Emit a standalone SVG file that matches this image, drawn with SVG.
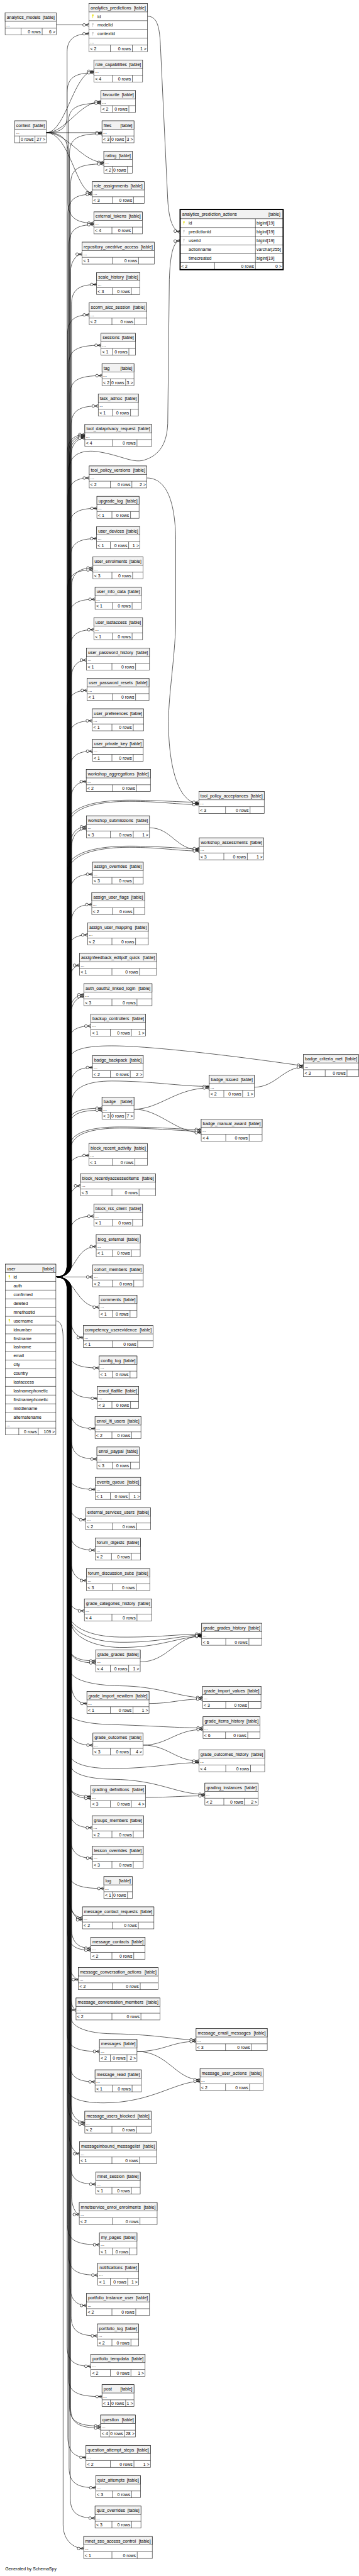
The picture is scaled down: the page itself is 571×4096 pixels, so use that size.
<svg xmlns="http://www.w3.org/2000/svg" width="571" height="4096" viewBox="0 0 571 4096">
<style>
.b{fill:#fff;stroke:#222;stroke-width:1}
.h{fill:#f2f2f2;stroke:#222;stroke-width:1}
.l{fill:none;stroke:#222;stroke-width:1}
text{font-family:"Liberation Sans",Arial,Helvetica,sans-serif;font-size:11px;fill:#000}
.e{text-anchor:end}
#connectors path{fill:none;stroke:#000;stroke-width:1;marker-end:url(#zm)}
</style>
<defs>
<marker id="zm" markerUnits="userSpaceOnUse" orient="auto" markerWidth="30" markerHeight="20" refX="25" refY="10"><path d="M16,10L25,6.2M16,10H25M16,10L25,13.8" fill="none" stroke="#000" stroke-width="1"/><circle cx="12.6" cy="10" r="3.4" fill="#fff" stroke="#000" stroke-width="1"/></marker>
<path id="ky" d="M-1.6,-4.5h3.2v3.5l-1,1v4.5h-1.2v-4.5l-1,-1z"/>
</defs>
<rect width="571" height="4096" fill="#fff"/>
<g transform="scale(0.6352)">
<g id="connectors">
<path d="M141,62.3H222.9"/>
<path d="M369.1,40.7C395,40.7 400,70 402,120L420,500C423,555 435,578 451,580.5"/>
<path d="M116,332C150,332 168,322 168,290V130C168,96 190,84.5 222.9,84.5"/>
<path d="M116,332C165,332 185,178.3 235,178.3"/>
<path d="M116,332C165,332 200,254.4 253,254.4"/>
<path d="M116,332H255.4"/>
<path d="M116,332C170,332 205,406.4 260,406.4"/>
<path d="M116,332C175,332 190,482.5 231,482.5"/>
<path d="M116,332C150,332 170,345 170,380V505C170,545 192,558.5 235,558.5"/>
<path d="M140,3196.6C156,3196.6 168,3190 168,3165V232.3C168,194.3 188,182.3 235,182.3"/>
<path d="M140,3196.6C156,3196.6 171,3190 171,3165V308.4C171,270.4 191,258.4 253,258.4"/>
<path d="M140,3196.6C156,3196.6 174,3190 174,3165V384.9C174,346.9 194,334.9 255.4,334.9"/>
<path d="M140,3196.6C156,3196.6 177,3190 177,3165V460.4C177,422.4 197,410.4 260,410.4"/>
<path d="M140,3196.6C156,3196.6 170,3190 170,3165V536.5C170,498.5 190,486.5 231,486.5"/>
<path d="M140,3196.6C156,3196.6 173,3190 173,3165V612.5C173,574.5 193,562.5 235,562.5"/>
<path d="M140,3196.6C156,3196.6 176,3190 176,3165V686.2C176,648.2 196,636.2 205.5,636.2"/>
<path d="M140,3196.6C156,3196.6 179,3190 179,3165V762.2C179,724.2 199,712.2 242,712.2"/>
<path d="M140,3196.6C156,3196.6 169,3190 169,3165V838.2C169,800.2 189,788.2 223.4,788.2"/>
<path d="M140,3196.6C156,3196.6 172,3190 172,3165V914.3C172,876.3 192,864.3 253,864.3"/>
<path d="M140,3196.6C156,3196.6 175,3190 175,3165V990.3C175,952.3 195,940.3 255.4,940.3"/>
<path d="M140,3196.6C156,3196.6 178,3190 178,3165V1066.3C178,1028.3 198,1016.3 246,1016.3"/>
<path d="M140,3196.6C156,3196.6 168,3190 168,3165V1137.8C168,1099.8 188,1087.8 212.4,1087.8"/>
<path d="M140,3196.6C156,3196.6 171,3190 171,3165V1140.8C171,1102.8 191,1090.8 212.4,1090.8"/>
<path d="M140,3196.6C156,3196.6 174,3190 174,3165V1143.8C174,1105.8 194,1093.8 212.4,1093.8"/>
<path d="M140,3196.6C156,3196.6 177,3190 177,3165V1146.8C177,1108.8 197,1096.8 212.4,1096.8"/>
<path d="M140,3196.6C156,3196.6 170,3190 170,3165V1246.5C170,1208.5 190,1196.5 223.4,1196.5"/>
<path d="M140,3196.6C156,3196.6 173,3190 173,3165V1322.5C173,1284.5 193,1272.5 242.6,1272.5"/>
<path d="M140,3196.6C156,3196.6 176,3190 176,3165V1398.2C176,1360.2 196,1348.2 242,1348.2"/>
<path d="M140,3196.6C156,3196.6 179,3190 179,3165V1471.7C179,1433.7 199,1421.7 232.7,1421.7"/>
<path d="M140,3196.6C156,3196.6 169,3190 169,3165V1476.7C169,1438.7 189,1426.7 232.7,1426.7"/>
<path d="M140,3196.6C156,3196.6 172,3190 172,3165V1550.2C172,1512.2 192,1500.2 238,1500.2"/>
<path d="M140,3196.6C156,3196.6 175,3190 175,3165V1626.3C175,1588.3 195,1576.3 235,1576.3"/>
<path d="M140,3196.6C156,3196.6 178,3190 178,3165V1702.3C178,1664.3 198,1652.3 216.5,1652.3"/>
<path d="M140,3196.6C156,3196.6 168,3190 168,3165V1778.3C168,1740.3 188,1728.3 218.2,1728.3"/>
<path d="M140,3196.6C156,3196.6 171,3190 171,3165V1854.4C171,1816.4 191,1804.4 231,1804.4"/>
<path d="M140,3196.6C156,3196.6 174,3190 174,3165V1930.4C174,1892.4 194,1880.4 231.6,1880.4"/>
<path d="M140,3196.6C156,3196.6 177,3190 177,3165V2006.4C177,1968.4 197,1956.4 216,1956.4"/>
<path d="M140,3196.6C156,3196.6 172,3190 172,3165V1180C172,1140 200,1126 240,1130C300,1138 330,1160 360,1152C400,1140 418,1110 420,1060L424,700C426,640 433,604 451,602.4"/>
<path d="M367.4,1196.5C405,1196.5 438,1230 440,1350V1560C438,1650 420,1750 422,1820C424,1930 450,2011.2 498,2011.2"/>
<path d="M140,3196.6C156,3196.6 170,3190 170,3165V2062C170,2022 230,2003 325,2003C400,2003 450,2008.2 498,2008.2"/>
<path d="M140,3196.6C156,3196.6 173,3190 173,3165V2066C173,2026 232,2006 325,2006C400,2006 450,2014.2 498,2014.2"/>
<path d="M140,3196.6C156,3196.6 176,3190 176,3165V2119.7C176,2081.7 196,2069.7 216.5,2069.7"/>
<path d="M140,3196.6C156,3196.6 179,3190 179,3165V2124.7C179,2086.7 199,2074.7 216.5,2074.7"/>
<path d="M374.3,2072.2C430,2072.2 440,2127.3 499,2127.3"/>
<path d="M140,3196.6C156,3196.6 169,3190 169,3165V2178C169,2138 230,2118 325,2118C400,2118 450,2124.3 499,2124.3"/>
<path d="M140,3196.6C156,3196.6 172,3190 172,3165V2182C172,2142 232,2121 325,2121C400,2121 450,2130.3 499,2130.3"/>
<path d="M140,3196.6C156,3196.6 175,3190 175,3165V2238.3C175,2200.3 195,2188.3 231.6,2188.3"/>
<path d="M140,3196.6C156,3196.6 178,3190 178,3165V2314.3C178,2276.3 198,2264.3 229.8,2264.3"/>
<path d="M140,3196.6C156,3196.6 168,3190 168,3165V2390.3C168,2352.3 188,2340.3 219.4,2340.3"/>
<path d="M140,3196.6C156,3196.6 171,3190 171,3165V2466.4C171,2428.4 191,2416.4 199,2416.4"/>
<path d="M140,3196.6C156,3196.6 174,3190 174,3165V2539.9C174,2501.9 194,2489.9 210,2489.9"/>
<path d="M140,3196.6C156,3196.6 177,3190 177,3165V2544.9C177,2506.9 197,2494.9 210,2494.9"/>
<path d="M140,3196.6C156,3196.6 170,3190 170,3165V2618.4C170,2580.4 190,2568.4 227.5,2568.4"/>
<path d="M140,3196.6C156,3196.6 173,3190 173,3165V2655C173,2625 220,2618 280,2618C380,2618 600,2645 759.7,2668.3"/>
<path d="M636.7,2721.5C690,2721.5 710,2671.3 759.7,2671.3"/>
<path d="M140,3196.6C156,3196.6 176,3190 176,3165V2722.2C176,2684.2 196,2672.2 231.6,2672.2"/>
<path d="M140,3196.6C156,3196.6 179,3190 179,3165V2760C179,2722 220,2706 280,2706C380,2706 450,2719.5 524,2719.5"/>
<path d="M335.5,2776.6C400,2776.6 440,2723.5 524,2723.5"/>
<path d="M140,3196.6C156,3196.6 169,3190 169,3165V2824.1C169,2786.1 189,2774.1 255.4,2774.1"/>
<path d="M140,3196.6C156,3196.6 172,3190 172,3165V2829.1C172,2791.1 192,2779.1 255.4,2779.1"/>
<path d="M140,3196.6C156,3196.6 175,3190 175,3165V2870C175,2834 230,2821 300,2821C400,2821 450,2827.4 503.8,2827.4"/>
<path d="M140,3196.6C156,3196.6 178,3190 178,3165V2874C178,2838 232,2824 300,2824C400,2824 450,2831.4 503.8,2831.4"/>
<path d="M335.5,2776.6C400,2776.6 440,2835.4 503.8,2835.4"/>
<path d="M140,3196.6C156,3196.6 168,3190 168,3165V2942.4C168,2904.4 188,2892.4 222.9,2892.4"/>
<path d="M140,3196.6C156,3196.6 171,3190 171,3165V3018.4C171,2980.4 191,2968.4 201.4,2968.4"/>
<path d="M140,3196.6C156,3196.6 174,3190 174,3165V3094.4C174,3056.4 194,3044.4 235,3044.4"/>
<path d="M140,3196.6C190,3196.6 185,3120.5 240.9,3120.5"/>
<path d="M139.9,3196.6H232"/>
<path d="M140,3196.6C190,3196.6 190,3272.2 248.4,3272.2"/>
<path d="M140,3196.6C156,3196.6 177,3203 177,3228V3298.2C177,3336.2 197,3348.2 208.4,3348.2"/>
<path d="M140,3196.6C156,3196.6 170,3203 170,3228V3374.3C170,3412.3 190,3424.3 248.4,3424.3"/>
<path d="M140,3196.6C156,3196.6 173,3203 173,3228V3450.3C173,3488.3 193,3500.3 243.8,3500.3"/>
<path d="M140,3196.6C156,3196.6 176,3203 176,3228V3526.3C176,3564.3 196,3576.3 238,3576.3"/>
<path d="M140,3196.6C156,3196.6 179,3203 179,3228V3602.3C179,3640.3 199,3652.3 242.6,3652.3"/>
<path d="M140,3196.6C156,3196.6 169,3203 169,3228V3678.4C169,3716.4 189,3728.4 238.5,3728.4"/>
<path d="M140,3196.6C156,3196.6 172,3203 172,3228V3754.4C172,3792.4 192,3804.4 214.7,3804.4"/>
<path d="M140,3196.6C156,3196.6 175,3203 175,3228V3830.4C175,3868.4 195,3880.4 238.5,3880.4"/>
<path d="M140,3196.6C156,3196.6 178,3203 178,3228V3906.5C178,3944.5 198,3956.5 216.5,3956.5"/>
<path d="M140,3196.6C156,3196.6 168,3203 168,3228V3982.5C168,4020.5 188,4032.5 211.3,4032.5"/>
<path d="M140,3196.6C156,3196.6 171,3203 171,3228V4035C171,4070 220,4097 300,4098C400,4099 450,4090.5 505,4090.5"/>
<path d="M140,3196.6C156,3196.6 174,3203 174,3228V4045C174,4085 230,4110 300,4111C400,4112 450,4093.5 505,4093.5"/>
<path d="M140,3196.6C156,3196.6 177,3203 177,3228V4055C177,4100 240,4123 300,4124C400,4125 450,4096.5 505,4096.5"/>
<path d="M351.1,4160.2C420,4160.2 440,4095 505,4095"/>
<path d="M140,3196.6C156,3196.6 170,3203 170,3228V4107.7C170,4145.7 190,4157.7 239.7,4157.7"/>
<path d="M140,3196.6C156,3196.6 173,3203 173,3228V4112.7C173,4150.7 193,4162.7 239.7,4162.7"/>
<path d="M140,3196.6C156,3196.6 176,3203 176,3228V4180C176,4205 230,4219 300,4220C400,4221 450,4249.3 507.2,4249.3"/>
<path d="M373.2,4264.3C430,4264.3 450,4253.3 507.2,4253.3"/>
<path d="M140,3196.6C156,3196.6 179,3203 179,3228V4214.3C179,4252.3 199,4264.3 217.6,4264.3"/>
<path d="M140,3196.6C156,3196.6 169,3203 169,3228V4285C169,4305 220,4316 280,4317C380,4320 450,4325.4 508.4,4325.4"/>
<path d="M358,4368.5C420,4368.5 440,4329.4 508.4,4329.4"/>
<path d="M140,3196.6C156,3196.6 172,3203 172,3228V4318.5C172,4356.5 192,4368.5 232.7,4368.5"/>
<path d="M358,4368.5C420,4368.5 440,4408.2 498,4408.2"/>
<path d="M140,3196.6C156,3196.6 175,3203 175,3228V4390C175,4415 220,4427 280,4427C380,4427 440,4412.2 498,4412.2"/>
<path d="M140,3196.6C156,3196.6 178,3203 178,3228V4420C178,4440 220,4453 280,4454C400,4455 440,4491.5 513,4491.5"/>
<path d="M364.5,4499.3C430,4499.3 450,4495.5 513,4495.5"/>
<path d="M140,3196.6C156,3196.6 168,3203 168,3228V4446.8C168,4484.8 188,4496.8 227.5,4496.8"/>
<path d="M140,3196.6C156,3196.6 171,3203 171,3228V4451.8C171,4489.8 191,4501.8 227.5,4501.8"/>
<path d="M140,3196.6C156,3196.6 174,3203 174,3228V4525.3C174,4563.3 194,4575.3 231,4575.3"/>
<path d="M140,3196.6C156,3196.6 177,3203 177,3228V4601.3C177,4639.3 197,4651.3 231.6,4651.3"/>
<path d="M140,3196.6C156,3196.6 170,3203 170,3228V4677.4C170,4715.4 190,4727.4 260,4727.4"/>
<path d="M140,3196.6C156,3196.6 173,3203 173,3228V4750.9C173,4788.9 193,4800.9 206.6,4800.9"/>
<path d="M140,3196.6C156,3196.6 176,3203 176,3228V4755.9C176,4793.9 196,4805.9 206.6,4805.9"/>
<path d="M140,3196.6C156,3196.6 179,3203 179,3228V4826.9C179,4864.9 199,4876.9 227.5,4876.9"/>
<path d="M140,3196.6C156,3196.6 169,3203 169,3228V4831.9C169,4869.9 189,4881.9 227.5,4881.9"/>
<path d="M140,3196.6C156,3196.6 172,3203 172,3228V4905.5C172,4943.5 192,4955.5 196.2,4955.5"/>
<path d="M140,3196.6C156,3196.6 175,3203 175,3228V4981.5C175,5019.5 186.4,5031.5 190.4,5031.5"/>
<path d="M140,3196.6C156,3196.6 178,3203 178,3228V5050C178,5075 220,5090 280,5091C400,5093 440,5106.2 491,5106.2"/>
<path d="M343,5135.3C410,5135.3 430,5110.2 491,5110.2"/>
<path d="M140,3196.6C156,3196.6 168,3203 168,3228V5085.3C168,5123.3 188,5135.3 249,5135.3"/>
<path d="M343,5135.3C420,5135.3 440,5206.2 500.9,5206.2"/>
<path d="M140,3196.6C156,3196.6 171,3203 171,3228V5230C171,5255 210,5264 260,5264C380,5264 440,5210.2 500.9,5210.2"/>
<path d="M140,3196.6C156,3196.6 174,3203 174,3228V5161.3C174,5199.3 194,5211.3 238,5211.3"/>
<path d="M140,3196.6C156,3196.6 177,3203 177,3228V5262.5C177,5300.5 197,5312.5 212.4,5312.5"/>
<path d="M140,3196.6C156,3196.6 170,3203 170,3228V5267.5C170,5305.5 190,5317.5 212.4,5317.5"/>
<path d="M140,3196.6C156,3196.6 173,3203 173,3228V5341.4C173,5379.4 193,5391.4 199,5391.4"/>
<path d="M140,3196.6C156,3196.6 176,3203 176,3228V5417.5C176,5455.5 196,5467.5 239.7,5467.5"/>
<path d="M140,3196.6C156,3196.6 179,3203 179,3228V5493.5C179,5531.5 194.5,5543.5 198.5,5543.5"/>
<path d="M140,3196.6C156,3196.6 169,3203 169,3228V5569.2C169,5607.2 189,5619.2 249,5619.2"/>
<path d="M140,3196.6C156,3196.6 172,3203 172,3228V5645.2C172,5683.2 192,5695.2 245,5695.2"/>
<path d="M140,3196.6C156,3196.6 175,3203 175,3228V5721.2C175,5759.2 195,5771.2 216.5,5771.2"/>
<path d="M140,3196.6C156,3196.6 178,3203 178,3228V5797.3C178,5835.3 198,5847.3 243.8,5847.3"/>
<path d="M140,3196.6C156,3196.6 168,3203 168,3228V5873.3C168,5911.3 188,5923.3 227.5,5923.3"/>
<path d="M140,3196.6C156,3196.6 171,3203 171,3228V5949.3C171,5987.3 191,5999.3 255.4,5999.3"/>
<path d="M140,3196.6C156,3196.6 174,3203 174,3228V6022.9C174,6060.9 194,6072.9 251.9,6072.9"/>
<path d="M140,3196.6C156,3196.6 177,3203 177,3228V6027.9C177,6065.9 197,6077.9 251.9,6077.9"/>
<path d="M140,3196.6C156,3196.6 170,3203 170,3228V6101.4C170,6139.4 190,6151.4 215.3,6151.4"/>
<path d="M140,3196.6C156,3196.6 173,3203 173,3228V6177.4C173,6215.4 193,6227.4 239.7,6227.4"/>
<path d="M140,3196.6C156,3196.6 176,3203 176,3228V6253.4C176,6291.4 196,6303.4 238,6303.4"/>
<path d="M139.9,3306.6C150,3306.6 158,3318 158,3350V6320C158,6360 185,6379.5 209.5,6379.5"/>
</g>

<g id="analytics_models" transform="translate(12.8,32.5)"><rect class="b" width="128.2" height="55"/><rect class="h" width="128.2" height="21"/><path class="l" d="M0,38H128.2M40,38V55M92.8,38V55"/><text x="4" y="15">analytics_models</text><text class="e" x="124.2" y="15">[table]</text><text x="3" y="33">...</text><text class="e" x="89.3" y="51">0 rows</text><text class="e" x="125.7" y="51">6 &gt;</text></g>

<g id="analytics_predictions" transform="translate(222.9,8.6)"><rect class="b" width="146.2" height="120.9"/><rect class="h" width="146.2" height="21.2"/><path class="l" d="M0,43.1H146.2M0,65H146.2M0,86.9H146.2M0,104.1H146.2M53.4,104.1V120.9M108.5,104.1V120.9"/><text x="4" y="15">analytics_predictions</text><text class="e" x="142.2" y="15">[table]</text><use href="#ky" x="9.6" y="32.2" fill="#e8e000"/><text x="21" y="36.3">id</text><use href="#ky" x="9.6" y="54.1" fill="#c4c4c4"/><text x="21" y="58.2">modelid</text><use href="#ky" x="9.6" y="76" fill="#c4c4c4"/><text x="21" y="80.1">contextid</text><text x="3" y="99.5">...</text><text x="3" y="117">&lt; 2</text><text class="e" x="105" y="117">0 rows</text><text class="e" x="143.7" y="117">1 &gt;</text></g>

<g id="role_capabilities" transform="translate(235,150.3)"><rect class="b" width="122" height="55"/><rect class="h" width="122" height="21"/><path class="l" d="M0,38H122M46.5,38V55M96.4,38V55"/><text x="4" y="15">role_capabilities</text><text class="e" x="118" y="15">[table]</text><text x="3" y="33">...</text><text x="3" y="51">&lt; 4</text><text class="e" x="92.9" y="51">0 rows</text></g>
<g id="favourite" transform="translate(253,226.4)"><rect class="b" width="86" height="55"/><rect class="h" width="86" height="21"/><path class="l" d="M0,38H86M28.5,38V55M69.7,38V55"/><text x="4" y="15">favourite</text><text class="e" x="82" y="15">[table]</text><text x="3" y="33">...</text><text x="3" y="51">&lt; 2</text><text class="e" x="66.2" y="51">0 rows</text></g>
<g id="context" transform="translate(36.6,302.4)"><rect class="b" width="79.4" height="55"/><rect class="h" width="79.4" height="21"/><path class="l" d="M0,38H79.4M12.7,38V55M51,38V55"/><text x="4" y="15">context</text><text class="e" x="75.4" y="15">[table]</text><text x="3" y="33">...</text><text class="e" x="47.5" y="51">0 rows</text><text class="e" x="76.9" y="51">27 &gt;</text></g>
<g id="files" transform="translate(255.4,302.4)"><rect class="b" width="80.1" height="55"/><rect class="h" width="80.1" height="21"/><path class="l" d="M0,38H80.1M20.9,38V55M59.2,38V55"/><text x="4" y="15">files</text><text class="e" x="76.1" y="15">[table]</text><text x="3" y="33">...</text><text x="3" y="51">&lt; 3</text><text class="e" x="55.7" y="51">0 rows</text><text class="e" x="77.6" y="51">3 &gt;</text></g>
<g id="rating" transform="translate(260,378.4)"><rect class="b" width="71.4" height="55"/><rect class="h" width="71.4" height="21"/><path class="l" d="M0,38H71.4M21.5,38V55M59.2,38V55"/><text x="4" y="15">rating</text><text class="e" x="67.4" y="15">[table]</text><text x="3" y="33">...</text><text x="3" y="51">&lt; 2</text><text class="e" x="55.7" y="51">0 rows</text></g>
<g id="role_assignments" transform="translate(231,454.5)"><rect class="b" width="130" height="55"/><rect class="h" width="130" height="21"/><path class="l" d="M0,38H130M50.5,38V55M103.3,38V55"/><text x="4" y="15">role_assignments</text><text class="e" x="126" y="15">[table]</text><text x="3" y="33">...</text><text x="3" y="51">&lt; 3</text><text class="e" x="99.8" y="51">0 rows</text></g>
<g id="external_tokens" transform="translate(235,530.5)"><rect class="b" width="121.3" height="55"/><rect class="h" width="121.3" height="21"/><path class="l" d="M0,38H121.3M45.3,38V55M96.4,38V55"/><text x="4" y="15">external_tokens</text><text class="e" x="117.3" y="15">[table]</text><text x="3" y="33">...</text><text x="3" y="51">&lt; 4</text><text class="e" x="92.9" y="51">0 rows</text></g>

<g id="analytics_prediction_actions" transform="translate(451,524.3)"><rect class="b" width="258" height="150.7"/><rect class="h" width="258" height="23.3"/><path class="l" d="M0,45.2H258M0,67.1H258M0,89H258M0,110.9H258M0,132.8H258M188.6,23.3V150.7M86.4,132.8V150.7"/><rect width="258" height="150.7" fill="none" stroke="#000" stroke-width="3"/><text x="5" y="16">analytics_prediction_actions</text><text class="e" x="251" y="16">[table]</text><use href="#ky" x="9.6" y="34.2" fill="#e8e000"/><text x="21.4" y="38.3">id</text><text x="191.5" y="38.3">bigint[19]</text><use href="#ky" x="9.6" y="56.1" fill="#c4c4c4"/><text x="21.4" y="60.2">predictionid</text><text x="191.5" y="60.2">bigint[19]</text><use href="#ky" x="9.6" y="78" fill="#c4c4c4"/><text x="21.4" y="82.1">userid</text><text x="191.5" y="82.1">bigint[19]</text><text x="21.4" y="104">actionname</text><text x="191.5" y="104">varchar[255]</text><text x="21.4" y="125.9">timecreated</text><text x="191.5" y="125.9">bigint[19]</text><text x="3" y="146.5">&lt; 2</text><text class="e" x="185" y="146.5">0 rows</text><text class="e" x="254" y="146.5">0 &gt;</text></g>

<g id="repository_onedrive_access" transform="translate(205.5,606.2)"><rect class="b" width="181" height="55"/><rect class="h" width="181" height="21"/><path class="l" d="M0,38H181M76,38V55M141.5,38V55"/><text x="4" y="15">repository_onedrive_access</text><text class="e" x="177" y="15">[table]</text><text x="3" y="33">...</text><text x="3" y="51">&lt; 1</text><text class="e" x="138" y="51">0 rows</text></g>
<g id="scale_history" transform="translate(242,682.2)"><rect class="b" width="108" height="55"/><rect class="h" width="108" height="21"/><path class="l" d="M0,38H108M39.5,38V55M87,38V55"/><text x="4" y="15">scale_history</text><text class="e" x="104" y="15">[table]</text><text x="3" y="33">...</text><text x="3" y="51">&lt; 3</text><text class="e" x="83.5" y="51">0 rows</text></g>
<g id="scorm_aicc_session" transform="translate(223.4,758.2)"><rect class="b" width="144" height="55"/><rect class="h" width="144" height="21"/><path class="l" d="M0,38H144M56.9,38V55M113.8,38V55"/><text x="4" y="15">scorm_aicc_session</text><text class="e" x="140" y="15">[table]</text><text x="3" y="33">...</text><text x="3" y="51">&lt; 2</text><text class="e" x="110.3" y="51">0 rows</text></g>
<g id="sessions" transform="translate(253,834.3)"><rect class="b" width="86" height="55"/><rect class="h" width="86" height="21"/><path class="l" d="M0,38H86M28.5,38V55M69.7,38V55"/><text x="4" y="15">sessions</text><text class="e" x="82" y="15">[table]</text><text x="3" y="33">...</text><text x="3" y="51">&lt; 1</text><text class="e" x="66.2" y="51">0 rows</text></g>
<g id="tag" transform="translate(255.4,910.3)"><rect class="b" width="80.1" height="55"/><rect class="h" width="80.1" height="21"/><path class="l" d="M0,38H80.1M20.9,38V55M59.2,38V55"/><text x="4" y="15">tag</text><text class="e" x="76.1" y="15">[table]</text><text x="3" y="33">...</text><text x="3" y="51">&lt; 2</text><text class="e" x="55.7" y="51">0 rows</text><text class="e" x="77.6" y="51">3 &gt;</text></g>
<g id="task_adhoc" transform="translate(246,986.3)"><rect class="b" width="100.5" height="55"/><rect class="h" width="100.5" height="21"/><path class="l" d="M0,38H100.5M35.5,38V55M80.8,38V55"/><text x="4" y="15">task_adhoc</text><text class="e" x="96.5" y="15">[table]</text><text x="3" y="33">...</text><text x="3" y="51">&lt; 1</text><text class="e" x="77.3" y="51">0 rows</text></g>
<g id="tool_dataprivacy_request" transform="translate(212.4,1062.3)"><rect class="b" width="167.2" height="55"/><rect class="h" width="167.2" height="21"/><path class="l" d="M0,38H167.2M69.1,38V55M130.6,38V55"/><text x="4" y="15">tool_dataprivacy_request</text><text class="e" x="163.2" y="15">[table]</text><text x="3" y="33">...</text><text x="3" y="51">&lt; 4</text><text class="e" x="127.1" y="51">0 rows</text></g>
<g id="tool_policy_versions" transform="translate(223.4,1166.5)"><rect class="b" width="144" height="55"/><rect class="h" width="144" height="21"/><path class="l" d="M0,38H144M52.9,38V55M106.8,38V55"/><text x="4" y="15">tool_policy_versions</text><text class="e" x="140" y="15">[table]</text><text x="3" y="33">...</text><text x="3" y="51">&lt; 2</text><text class="e" x="103.3" y="51">0 rows</text><text class="e" x="141.5" y="51">2 &gt;</text></g>
<g id="upgrade_log" transform="translate(242.6,1242.5)"><rect class="b" width="105.6" height="55"/><rect class="h" width="105.6" height="21"/><path class="l" d="M0,38H105.6M37.7,38V55M84.2,38V55"/><text x="4" y="15">upgrade_log</text><text class="e" x="101.6" y="15">[table]</text><text x="3" y="33">...</text><text x="3" y="51">&lt; 1</text><text class="e" x="80.7" y="51">0 rows</text></g>
<g id="user_devices" transform="translate(242,1318.2)"><rect class="b" width="108" height="55"/><rect class="h" width="108" height="21"/><path class="l" d="M0,38H108M34.3,38V55M80.1,38V55"/><text x="4" y="15">user_devices</text><text class="e" x="104" y="15">[table]</text><text x="3" y="33">...</text><text x="3" y="51">&lt; 1</text><text class="e" x="76.6" y="51">0 rows</text><text class="e" x="105.5" y="51">1 &gt;</text></g>
<g id="user_enrolments" transform="translate(232.7,1394.2)"><rect class="b" width="125.3" height="55"/><rect class="h" width="125.3" height="21"/><path class="l" d="M0,38H125.3M47.6,38V55M99.3,38V55"/><text x="4" y="15">user_enrolments</text><text class="e" x="121.3" y="15">[table]</text><text x="3" y="33">...</text><text x="3" y="51">&lt; 3</text><text class="e" x="95.8" y="51">0 rows</text></g>
<g id="user_info_data" transform="translate(238,1470.2)"><rect class="b" width="116" height="55"/><rect class="h" width="116" height="21"/><path class="l" d="M0,38H116M43.5,38V55M92.8,38V55"/><text x="4" y="15">user_info_data</text><text class="e" x="112" y="15">[table]</text><text x="3" y="33">...</text><text x="3" y="51">&lt; 1</text><text class="e" x="89.3" y="51">0 rows</text></g>
<g id="user_lastaccess" transform="translate(235,1546.3)"><rect class="b" width="122" height="55"/><rect class="h" width="122" height="21"/><path class="l" d="M0,38H122M46.5,38V55M95.8,38V55"/><text x="4" y="15">user_lastaccess</text><text class="e" x="118" y="15">[table]</text><text x="3" y="33">...</text><text x="3" y="51">&lt; 1</text><text class="e" x="92.3" y="51">0 rows</text></g>
<g id="user_password_history" transform="translate(216.5,1622.3)"><rect class="b" width="157.8" height="55"/><rect class="h" width="157.8" height="21"/><path class="l" d="M0,38H157.8M63.8,38V55M123,38V55"/><text x="4" y="15">user_password_history</text><text class="e" x="153.8" y="15">[table]</text><text x="3" y="33">...</text><text x="3" y="51">&lt; 1</text><text class="e" x="119.5" y="51">0 rows</text></g>
<g id="user_password_resets" transform="translate(218.2,1698.3)"><rect class="b" width="155" height="55"/><rect class="h" width="155" height="21"/><path class="l" d="M0,38H155M63.3,38V55M121.3,38V55"/><text x="4" y="15">user_password_resets</text><text class="e" x="151" y="15">[table]</text><text x="3" y="33">...</text><text x="3" y="51">&lt; 1</text><text class="e" x="117.8" y="51">0 rows</text></g>
<g id="user_preferences" transform="translate(231,1774.4)"><rect class="b" width="128.8" height="55"/><rect class="h" width="128.8" height="21"/><path class="l" d="M0,38H128.8M49.3,38V55M102.7,38V55"/><text x="4" y="15">user_preferences</text><text class="e" x="124.8" y="15">[table]</text><text x="3" y="33">...</text><text x="3" y="51">&lt; 1</text><text class="e" x="99.2" y="51">0 rows</text></g>
<g id="user_private_key" transform="translate(231.6,1850.4)"><rect class="b" width="127.1" height="55"/><rect class="h" width="127.1" height="21"/><path class="l" d="M0,38H127.1M48.7,38V55M102.1,38V55"/><text x="4" y="15">user_private_key</text><text class="e" x="123.1" y="15">[table]</text><text x="3" y="33">...</text><text x="3" y="51">&lt; 1</text><text class="e" x="98.6" y="51">0 rows</text></g>
<g id="workshop_aggregations" transform="translate(216,1926.4)"><rect class="b" width="160.7" height="55"/><rect class="h" width="160.7" height="21"/><path class="l" d="M0,38H160.7M65.5,38V55M125.8,38V55"/><text x="4" y="15">workshop_aggregations</text><text class="e" x="156.7" y="15">[table]</text><text x="3" y="33">...</text><text x="3" y="51">&lt; 2</text><text class="e" x="122.3" y="51">0 rows</text></g>
<g id="tool_policy_acceptances" transform="translate(498,1981.2)"><rect class="b" width="163.6" height="55"/><rect class="h" width="163.6" height="21"/><path class="l" d="M0,38H163.6M66.7,38V55M128.2,38V55"/><text x="4" y="15">tool_policy_acceptances</text><text class="e" x="159.6" y="15">[table]</text><text x="3" y="33">...</text><text x="3" y="51">&lt; 3</text><text class="e" x="124.7" y="51">0 rows</text></g>
<g id="workshop_submissions" transform="translate(216.5,2042.2)"><rect class="b" width="157.8" height="55"/><rect class="h" width="157.8" height="21"/><path class="l" d="M0,38H157.8M59.8,38V55M117.2,38V55"/><text x="4" y="15">workshop_submissions</text><text class="e" x="153.8" y="15">[table]</text><text x="3" y="33">...</text><text x="3" y="51">&lt; 3</text><text class="e" x="113.7" y="51">0 rows</text><text class="e" x="155.3" y="51">1 &gt;</text></g>
<g id="workshop_assessments" transform="translate(499,2097.3)"><rect class="b" width="161.5" height="55"/><rect class="h" width="161.5" height="21"/><path class="l" d="M0,38H161.5M61.5,38V55M120.3,38V55"/><text x="4" y="15">workshop_assessments</text><text class="e" x="157.5" y="15">[table]</text><text x="3" y="33">...</text><text x="3" y="51">&lt; 3</text><text class="e" x="116.8" y="51">0 rows</text><text class="e" x="159" y="51">1 &gt;</text></g>
<g id="assign_overrides" transform="translate(231.6,2158.3)"><rect class="b" width="127.1" height="55"/><rect class="h" width="127.1" height="21"/><path class="l" d="M0,38H127.1M48.7,38V55M102.1,38V55"/><text x="4" y="15">assign_overrides</text><text class="e" x="123.1" y="15">[table]</text><text x="3" y="33">...</text><text x="3" y="51">&lt; 3</text><text class="e" x="98.6" y="51">0 rows</text></g>
<g id="assign_user_flags" transform="translate(229.8,2234.3)"><rect class="b" width="132.4" height="55"/><rect class="h" width="132.4" height="21"/><path class="l" d="M0,38H132.4M51.7,38V55M105.1,38V55"/><text x="4" y="15">assign_user_flags</text><text class="e" x="128.4" y="15">[table]</text><text x="3" y="33">...</text><text x="3" y="51">&lt; 2</text><text class="e" x="101.6" y="51">0 rows</text></g>
<g id="assign_user_mapping" transform="translate(219.4,2310.3)"><rect class="b" width="152" height="55"/><rect class="h" width="152" height="21"/><path class="l" d="M0,38H152M60.9,38V55M120.1,38V55"/><text x="4" y="15">assign_user_mapping</text><text class="e" x="148" y="15">[table]</text><text x="3" y="33">...</text><text x="3" y="51">&lt; 2</text><text class="e" x="116.6" y="51">0 rows</text></g>
<g id="assignfeedback_editpdf_quick" transform="translate(199,2386.4)"><rect class="b" width="192.8" height="55"/><rect class="h" width="192.8" height="21"/><path class="l" d="M0,38H192.8M81.3,38V55M150.4,38V55"/><text x="4" y="15">assignfeedback_editpdf_quick</text><text class="e" x="188.8" y="15">[table]</text><text x="3" y="33">...</text><text x="3" y="51">&lt; 1</text><text class="e" x="146.9" y="51">0 rows</text></g>
<g id="auth_oauth2_linked_login" transform="translate(210,2462.4)"><rect class="b" width="170.7" height="55"/><rect class="h" width="170.7" height="21"/><path class="l" d="M0,38H170.7M70.3,38V55M133,38V55"/><text x="4" y="15">auth_oauth2_linked_login</text><text class="e" x="166.7" y="15">[table]</text><text x="3" y="33">...</text><text x="3" y="51">&lt; 3</text><text class="e" x="129.5" y="51">0 rows</text></g>
<g id="backup_controllers" transform="translate(227.5,2538.4)"><rect class="b" width="137" height="55"/><rect class="h" width="137" height="21"/><path class="l" d="M0,38H137M48.8,38V55M101.5,38V55"/><text x="4" y="15">backup_controllers</text><text class="e" x="133" y="15">[table]</text><text x="3" y="33">...</text><text x="3" y="51">&lt; 1</text><text class="e" x="98" y="51">0 rows</text><text class="e" x="134.5" y="51">1 &gt;</text></g>
<g id="badge_backpack" transform="translate(231.6,2642.2)"><rect class="b" width="127.1" height="55"/><rect class="h" width="127.1" height="21"/><path class="l" d="M0,38H127.1M44.7,38V55M94.6,38V55"/><text x="4" y="15">badge_backpack</text><text class="e" x="123.1" y="15">[table]</text><text x="3" y="33">...</text><text x="3" y="51">&lt; 2</text><text class="e" x="91.1" y="51">0 rows</text><text class="e" x="124.6" y="51">2 &gt;</text></g>
<g id="badge_criteria_met" transform="translate(759.7,2639.8)"><rect class="b" width="138.7" height="55"/><rect class="h" width="138.7" height="21"/><path class="l" d="M0,38H138.7M54.6,38V55M109.2,38V55"/><text x="4" y="15">badge_criteria_met</text><text class="e" x="134.7" y="15">[table]</text><text x="3" y="33">...</text><text x="3" y="51">&lt; 3</text><text class="e" x="105.7" y="51">0 rows</text></g>
<g id="badge_issued" transform="translate(524,2691.5)"><rect class="b" width="112.7" height="55"/><rect class="h" width="112.7" height="21"/><path class="l" d="M0,38H112.7M36.5,38V55M83.5,38V55"/><text x="4" y="15">badge_issued</text><text class="e" x="108.7" y="15">[table]</text><text x="3" y="33">...</text><text x="3" y="51">&lt; 2</text><text class="e" x="80" y="51">0 rows</text><text class="e" x="110.2" y="51">1 &gt;</text></g>
<g id="badge" transform="translate(255.4,2746.6)"><rect class="b" width="80.1" height="55"/><rect class="h" width="80.1" height="21"/><path class="l" d="M0,38H80.1M20.9,38V55M59.2,38V55"/><text x="4" y="15">badge</text><text class="e" x="76.1" y="15">[table]</text><text x="3" y="33">...</text><text x="3" y="51">&lt; 3</text><text class="e" x="55.7" y="51">0 rows</text><text class="e" x="77.6" y="51">7 &gt;</text></g>
<g id="badge_manual_award" transform="translate(503.8,2801.4)"><rect class="b" width="152.6" height="55"/><rect class="h" width="152.6" height="21"/><path class="l" d="M0,38H152.6M61.5,38V55M120.1,38V55"/><text x="4" y="15">badge_manual_award</text><text class="e" x="148.6" y="15">[table]</text><text x="3" y="33">...</text><text x="3" y="51">&lt; 4</text><text class="e" x="116.6" y="51">0 rows</text></g>
<g id="block_recent_activity" transform="translate(222.9,2862.4)"><rect class="b" width="146.2" height="55"/><rect class="h" width="146.2" height="21"/><path class="l" d="M0,38H146.2M58.6,38V55M114.9,38V55"/><text x="4" y="15">block_recent_activity</text><text class="e" x="142.2" y="15">[table]</text><text x="3" y="33">...</text><text x="3" y="51">&lt; 1</text><text class="e" x="111.4" y="51">0 rows</text></g>
<g id="block_recentlyaccesseditems" transform="translate(201.4,2938.4)"><rect class="b" width="188" height="55"/><rect class="h" width="188" height="21"/><path class="l" d="M0,38H188M78.9,38V55M146.8,38V55"/><text x="4" y="15">block_recentlyaccesseditems</text><text class="e" x="184" y="15">[table]</text><text x="3" y="33">...</text><text x="3" y="51">&lt; 3</text><text class="e" x="143.3" y="51">0 rows</text></g>
<g id="block_rss_client" transform="translate(235,3014.4)"><rect class="b" width="122" height="55"/><rect class="h" width="122" height="21"/><path class="l" d="M0,38H122M46.5,38V55M97,38V55"/><text x="4" y="15">block_rss_client</text><text class="e" x="118" y="15">[table]</text><text x="3" y="33">...</text><text x="3" y="51">&lt; 1</text><text class="e" x="93.5" y="51">0 rows</text></g>
<g id="blog_external" transform="translate(240.9,3090.5)"><rect class="b" width="110.2" height="55"/><rect class="h" width="110.2" height="21"/><path class="l" d="M0,38H110.2M40.6,38V55M88.1,38V55"/><text x="4" y="15">blog_external</text><text class="e" x="106.2" y="15">[table]</text><text x="3" y="33">...</text><text x="3" y="51">&lt; 1</text><text class="e" x="84.6" y="51">0 rows</text></g>

<g id="user" transform="translate(13.3,3164.5)"><rect class="b" width="126.6" height="427.5"/><rect class="h" width="126.6" height="21.2"/><path class="l" d="M0,43.1H126.6M0,65H126.6M0,86.9H126.6M0,108.8H126.6M0,130.7H126.6M0,152.6H126.6M0,174.5H126.6M0,196.4H126.6M0,218.3H126.6M0,240.2H126.6M0,262.1H126.6M0,284H126.6M0,305.9H126.6M0,327.8H126.6M0,349.7H126.6M0,371.6H126.6M0,393.5H126.6M0,410.5H126.6M33.7,410.5V427.5M82.5,410.5V427.5"/><text x="4" y="15">user</text><text class="e" x="122.6" y="15">[table]</text><use href="#ky" x="9.9" y="32.2" fill="#e8e000"/><text x="20.4" y="36.3">id</text><text x="20.4" y="58.2">auth</text><text x="20.4" y="80.1">confirmed</text><text x="20.4" y="102">deleted</text><text x="20.4" y="123.9">mnethostid</text><use href="#ky" x="9.9" y="141.7" fill="#e8e000"/><text x="20.4" y="145.8">username</text><text x="20.4" y="167.7">idnumber</text><text x="20.4" y="189.6">firstname</text><text x="20.4" y="211.5">lastname</text><text x="20.4" y="233.4">email</text><text x="20.4" y="255.3">city</text><text x="20.4" y="277.2">country</text><text x="20.4" y="299.1">lastaccess</text><text x="20.4" y="321">lastnamephonetic</text><text x="20.4" y="342.9">firstnamephonetic</text><text x="20.4" y="364.8">middlename</text><text x="20.4" y="386.7">alternatename</text><text x="3" y="405.5">...</text><text class="e" x="79" y="423.5">0 rows</text><text class="e" x="124" y="423.5">109 &gt;</text></g>

<g id="cohort_members" transform="translate(232,3166.2)"><rect class="b" width="126.7" height="55"/><rect class="h" width="126.7" height="21"/><path class="l" d="M0,38H126.7M49.5,38V55M102.9,38V55"/><text x="4" y="15">cohort_members</text><text class="e" x="122.7" y="15">[table]</text><text x="3" y="33">...</text><text x="3" y="51">&lt; 2</text><text class="e" x="99.4" y="51">0 rows</text></g>
<g id="comments" transform="translate(248.4,3242.2)"><rect class="b" width="94.6" height="55"/><rect class="h" width="94.6" height="21"/><path class="l" d="M0,38H94.6M33.1,38V55M77.2,38V55"/><text x="4" y="15">comments</text><text class="e" x="90.6" y="15">[table]</text><text x="3" y="33">...</text><text x="3" y="51">&lt; 1</text><text class="e" x="73.7" y="51">0 rows</text></g>
<g id="competency_userevidence" transform="translate(208.4,3318.2)"><rect class="b" width="175.2" height="55"/><rect class="h" width="175.2" height="21"/><path class="l" d="M0,38H175.2M73.1,38V55M136.3,38V55"/><text x="4" y="15">competency_userevidence</text><text class="e" x="171.2" y="15">[table]</text><text x="3" y="33">...</text><text x="3" y="51">&lt; 1</text><text class="e" x="132.8" y="51">0 rows</text></g>
<g id="config_log" transform="translate(248.4,3394.3)"><rect class="b" width="94.6" height="55"/><rect class="h" width="94.6" height="21"/><path class="l" d="M0,38H94.6M33.1,38V55M77.2,38V55"/><text x="4" y="15">config_log</text><text class="e" x="90.6" y="15">[table]</text><text x="3" y="33">...</text><text x="3" y="51">&lt; 1</text><text class="e" x="73.7" y="51">0 rows</text></g>
<g id="enrol_flatfile" transform="translate(243.8,3470.3)"><rect class="b" width="103.2" height="55"/><rect class="h" width="103.2" height="21"/><path class="l" d="M0,38H103.2M36.5,38V55M83,38V55"/><text x="4" y="15">enrol_flatfile</text><text class="e" x="99.2" y="15">[table]</text><text x="3" y="33">...</text><text x="3" y="51">&lt; 3</text><text class="e" x="79.5" y="51">0 rows</text></g>
<g id="enrol_lti_users" transform="translate(238,3546.3)"><rect class="b" width="114.9" height="55"/><rect class="h" width="114.9" height="21"/><path class="l" d="M0,38H114.9M42.3,38V55M91.6,38V55"/><text x="4" y="15">enrol_lti_users</text><text class="e" x="110.9" y="15">[table]</text><text x="3" y="33">...</text><text x="3" y="51">&lt; 2</text><text class="e" x="88.1" y="51">0 rows</text></g>
<g id="enrol_paypal" transform="translate(242.6,3622.3)"><rect class="b" width="106.2" height="55"/><rect class="h" width="106.2" height="21"/><path class="l" d="M0,38H106.2M38.9,38V55M84.2,38V55"/><text x="4" y="15">enrol_paypal</text><text class="e" x="102.2" y="15">[table]</text><text x="3" y="33">...</text><text x="3" y="51">&lt; 3</text><text class="e" x="80.7" y="51">0 rows</text></g>
<g id="events_queue" transform="translate(238.5,3698.4)"><rect class="b" width="113.8" height="55"/><rect class="h" width="113.8" height="21"/><path class="l" d="M0,38H113.8M37.8,38V55M84.8,38V55"/><text x="4" y="15">events_queue</text><text class="e" x="109.8" y="15">[table]</text><text x="3" y="33">...</text><text x="3" y="51">&lt; 1</text><text class="e" x="81.3" y="51">0 rows</text><text class="e" x="111.3" y="51">1 &gt;</text></g>
<g id="external_services_users" transform="translate(214.7,3774.4)"><rect class="b" width="162.5" height="55"/><rect class="h" width="162.5" height="21"/><path class="l" d="M0,38H162.5M66.8,38V55M127.7,38V55"/><text x="4" y="15">external_services_users</text><text class="e" x="158.5" y="15">[table]</text><text x="3" y="33">...</text><text x="3" y="51">&lt; 2</text><text class="e" x="124.2" y="51">0 rows</text></g>
<g id="forum_digests" transform="translate(238.5,3850.4)"><rect class="b" width="113.2" height="55"/><rect class="h" width="113.2" height="21"/><path class="l" d="M0,38H113.2M40.7,38V55M90.5,38V55"/><text x="4" y="15">forum_digests</text><text class="e" x="109.2" y="15">[table]</text><text x="3" y="33">...</text><text x="3" y="51">&lt; 2</text><text class="e" x="87" y="51">0 rows</text></g>
<g id="forum_discussion_subs" transform="translate(216.5,3926.5)"><rect class="b" width="158.5" height="55"/><rect class="h" width="158.5" height="21"/><path class="l" d="M0,38H158.5M65,38V55M124.8,38V55"/><text x="4" y="15">forum_discussion_subs</text><text class="e" x="154.5" y="15">[table]</text><text x="3" y="33">...</text><text x="3" y="51">&lt; 3</text><text class="e" x="121.3" y="51">0 rows</text></g>
<g id="grade_categories_history" transform="translate(211.3,4002.5)"><rect class="b" width="168.3" height="55"/><rect class="h" width="168.3" height="21"/><path class="l" d="M0,38H168.3M69,38V55M131.7,38V55"/><text x="4" y="15">grade_categories_history</text><text class="e" x="164.3" y="15">[table]</text><text x="3" y="33">...</text><text x="3" y="51">&lt; 4</text><text class="e" x="128.2" y="51">0 rows</text></g>
<g id="grade_grades_history" transform="translate(505,4063.5)"><rect class="b" width="150.8" height="55"/><rect class="h" width="150.8" height="21"/><path class="l" d="M0,38H150.8M60.3,38V55M118.3,38V55"/><text x="4" y="15">grade_grades_history</text><text class="e" x="146.8" y="15">[table]</text><text x="3" y="33">...</text><text x="3" y="51">&lt; 6</text><text class="e" x="114.8" y="51">0 rows</text></g>
<g id="grade_grades" transform="translate(239.7,4130.2)"><rect class="b" width="111.4" height="55"/><rect class="h" width="111.4" height="21"/><path class="l" d="M0,38H111.4M36.6,38V55M82.4,38V55"/><text x="4" y="15">grade_grades</text><text class="e" x="107.4" y="15">[table]</text><text x="3" y="33">...</text><text x="3" y="51">&lt; 4</text><text class="e" x="78.9" y="51">0 rows</text><text class="e" x="108.9" y="51">1 &gt;</text></g>
<g id="grade_import_values" transform="translate(507.2,4221.3)"><rect class="b" width="146.3" height="55"/><rect class="h" width="146.3" height="21"/><path class="l" d="M0,38H146.3M58.1,38V55M115,38V55"/><text x="4" y="15">grade_import_values</text><text class="e" x="142.3" y="15">[table]</text><text x="3" y="33">...</text><text x="3" y="51">&lt; 3</text><text class="e" x="111.5" y="51">0 rows</text></g>
<g id="grade_import_newitem" transform="translate(217.6,4234.3)"><rect class="b" width="155.6" height="55"/><rect class="h" width="155.6" height="21"/><path class="l" d="M0,38H155.6M58.7,38V55M115.5,38V55"/><text x="4" y="15">grade_import_newitem</text><text class="e" x="151.6" y="15">[table]</text><text x="3" y="33">...</text><text x="3" y="51">&lt; 1</text><text class="e" x="112" y="51">0 rows</text><text class="e" x="153.1" y="51">1 &gt;</text></g>
<g id="grade_items_history" transform="translate(508.4,4297.4)"><rect class="b" width="142.8" height="55"/><rect class="h" width="142.8" height="21"/><path class="l" d="M0,38H142.8M56.3,38V55M112,38V55"/><text x="4" y="15">grade_items_history</text><text class="e" x="138.8" y="15">[table]</text><text x="3" y="33">...</text><text x="3" y="51">&lt; 6</text><text class="e" x="108.5" y="51">0 rows</text></g>
<g id="grade_outcomes" transform="translate(232.7,4338.5)"><rect class="b" width="125.3" height="55"/><rect class="h" width="125.3" height="21"/><path class="l" d="M0,38H125.3M43.6,38V55M93.5,38V55"/><text x="4" y="15">grade_outcomes</text><text class="e" x="121.3" y="15">[table]</text><text x="3" y="33">...</text><text x="3" y="51">&lt; 3</text><text class="e" x="90" y="51">0 rows</text><text class="e" x="122.8" y="51">4 &gt;</text></g>
<g id="grade_outcomes_history" transform="translate(498,4380.2)"><rect class="b" width="164.8" height="55"/><rect class="h" width="164.8" height="21"/><path class="l" d="M0,38H164.8M67.3,38V55M129.4,38V55"/><text x="4" y="15">grade_outcomes_history</text><text class="e" x="160.8" y="15">[table]</text><text x="3" y="33">...</text><text x="3" y="51">&lt; 4</text><text class="e" x="125.9" y="51">0 rows</text></g>
<g id="grading_instances" transform="translate(513,4463.5)"><rect class="b" width="133.5" height="55"/><rect class="h" width="133.5" height="21"/><path class="l" d="M0,38H133.5M47.5,38V55M99.2,38V55"/><text x="4" y="15">grading_instances</text><text class="e" x="129.5" y="15">[table]</text><text x="3" y="33">...</text><text x="3" y="51">&lt; 2</text><text class="e" x="95.7" y="51">0 rows</text><text class="e" x="131" y="51">2 &gt;</text></g>
<g id="grading_definitions" transform="translate(227.5,4469.3)"><rect class="b" width="137" height="55"/><rect class="h" width="137" height="21"/><path class="l" d="M0,38H137M48.8,38V55M101.5,38V55"/><text x="4" y="15">grading_definitions</text><text class="e" x="133" y="15">[table]</text><text x="3" y="33">...</text><text x="3" y="51">&lt; 3</text><text class="e" x="98" y="51">0 rows</text><text class="e" x="134.5" y="51">4 &gt;</text></g>
<g id="groups_members" transform="translate(231,4545.3)"><rect class="b" width="128.8" height="55"/><rect class="h" width="128.8" height="21"/><path class="l" d="M0,38H128.8M49.3,38V55M102.7,38V55"/><text x="4" y="15">groups_members</text><text class="e" x="124.8" y="15">[table]</text><text x="3" y="33">...</text><text x="3" y="51">&lt; 2</text><text class="e" x="99.2" y="51">0 rows</text></g>
<g id="lesson_overrides" transform="translate(231.6,4621.3)"><rect class="b" width="127.1" height="55"/><rect class="h" width="127.1" height="21"/><path class="l" d="M0,38H127.1M48.7,38V55M102.1,38V55"/><text x="4" y="15">lesson_overrides</text><text class="e" x="123.1" y="15">[table]</text><text x="3" y="33">...</text><text x="3" y="51">&lt; 3</text><text class="e" x="98.6" y="51">0 rows</text></g>
<g id="log" transform="translate(260,4697.4)"><rect class="b" width="71.4" height="55"/><rect class="h" width="71.4" height="21"/><path class="l" d="M0,38H71.4M21.5,38V55M59.2,38V55"/><text x="4" y="15">log</text><text class="e" x="67.4" y="15">[table]</text><text x="3" y="33">...</text><text x="3" y="51">&lt; 1</text><text class="e" x="55.7" y="51">0 rows</text></g>
<g id="message_contact_requests" transform="translate(206.6,4773.4)"><rect class="b" width="178.8" height="55"/><rect class="h" width="178.8" height="21"/><path class="l" d="M0,38H178.8M74.9,38V55M139.8,38V55"/><text x="4" y="15">message_contact_requests</text><text class="e" x="174.8" y="15">[table]</text><text x="3" y="33">...</text><text x="3" y="51">&lt; 2</text><text class="e" x="136.3" y="51">0 rows</text></g>
<g id="message_contacts" transform="translate(227.5,4849.4)"><rect class="b" width="135.8" height="55"/><rect class="h" width="135.8" height="21"/><path class="l" d="M0,38H135.8M52.8,38V55M107.4,38V55"/><text x="4" y="15">message_contacts</text><text class="e" x="131.8" y="15">[table]</text><text x="3" y="33">...</text><text x="3" y="51">&lt; 2</text><text class="e" x="103.9" y="51">0 rows</text></g>
<g id="message_conversation_actions" transform="translate(196.2,4925.5)"><rect class="b" width="199.6" height="55"/><rect class="h" width="199.6" height="21"/><path class="l" d="M0,38H199.6M85.3,38V55M154.9,38V55"/><text x="4" y="15">message_conversation_actions</text><text class="e" x="195.6" y="15">[table]</text><text x="3" y="33">...</text><text x="3" y="51">&lt; 2</text><text class="e" x="151.4" y="51">0 rows</text></g>
<g id="message_conversation_members" transform="translate(190.4,5001.5)"><rect class="b" width="210.1" height="55"/><rect class="h" width="210.1" height="21"/><path class="l" d="M0,38H210.1M89.9,38V55M162.5,38V55"/><text x="4" y="15">message_conversation_members</text><text class="e" x="206.1" y="15">[table]</text><text x="3" y="33">...</text><text x="3" y="51">&lt; 2</text><text class="e" x="159" y="51">0 rows</text></g>
<g id="message_email_messages" transform="translate(491,5078.2)"><rect class="b" width="178.2" height="55"/><rect class="h" width="178.2" height="21"/><path class="l" d="M0,38H178.2M73.7,38V55M138.7,38V55"/><text x="4" y="15">message_email_messages</text><text class="e" x="174.2" y="15">[table]</text><text x="3" y="33">...</text><text x="3" y="51">&lt; 3</text><text class="e" x="135.2" y="51">0 rows</text></g>
<g id="messages" transform="translate(249,5105.3)"><rect class="b" width="94" height="55"/><rect class="h" width="94" height="21"/><path class="l" d="M0,38H94M27.3,38V55M69,38V55"/><text x="4" y="15">messages</text><text class="e" x="90" y="15">[table]</text><text x="3" y="33">...</text><text x="3" y="51">&lt; 2</text><text class="e" x="65.5" y="51">0 rows</text><text class="e" x="91.5" y="51">2 &gt;</text></g>
<g id="message_user_actions" transform="translate(500.9,5178.2)"><rect class="b" width="157.8" height="55"/><rect class="h" width="157.8" height="21"/><path class="l" d="M0,38H157.8M63.8,38V55M124.1,38V55"/><text x="4" y="15">message_user_actions</text><text class="e" x="153.8" y="15">[table]</text><text x="3" y="33">...</text><text x="3" y="51">&lt; 2</text><text class="e" x="120.6" y="51">0 rows</text></g>
<g id="message_read" transform="translate(238,5181.3)"><rect class="b" width="116" height="55"/><rect class="h" width="116" height="21"/><path class="l" d="M0,38H116M43.5,38V55M92.8,38V55"/><text x="4" y="15">message_read</text><text class="e" x="112" y="15">[table]</text><text x="3" y="33">...</text><text x="3" y="51">&lt; 1</text><text class="e" x="89.3" y="51">0 rows</text></g>
<g id="message_users_blocked" transform="translate(212.4,5285)"><rect class="b" width="166" height="55"/><rect class="h" width="166" height="21"/><path class="l" d="M0,38H166M67.9,38V55M129.4,38V55"/><text x="4" y="15">message_users_blocked</text><text class="e" x="162" y="15">[table]</text><text x="3" y="33">...</text><text x="3" y="51">&lt; 2</text><text class="e" x="125.9" y="51">0 rows</text></g>
<g id="messageinbound_messagelist" transform="translate(199,5361.4)"><rect class="b" width="192.8" height="55"/><rect class="h" width="192.8" height="21"/><path class="l" d="M0,38H192.8M81.3,38V55M150.4,38V55"/><text x="4" y="15">messageinbound_messagelist</text><text class="e" x="188.8" y="15">[table]</text><text x="3" y="33">...</text><text x="3" y="51">&lt; 1</text><text class="e" x="146.9" y="51">0 rows</text></g>
<g id="mnet_session" transform="translate(239.7,5437.5)"><rect class="b" width="111.4" height="55"/><rect class="h" width="111.4" height="21"/><path class="l" d="M0,38H111.4M40.6,38V55M89.3,38V55"/><text x="4" y="15">mnet_session</text><text class="e" x="107.4" y="15">[table]</text><text x="3" y="33">...</text><text x="3" y="51">&lt; 1</text><text class="e" x="85.8" y="51">0 rows</text></g>
<g id="mnetservice_enrol_enrolments" transform="translate(198.5,5513.5)"><rect class="b" width="195" height="55"/><rect class="h" width="195" height="21"/><path class="l" d="M0,38H195M83,38V55M152,38V55"/><text x="4" y="15">mnetservice_enrol_enrolments</text><text class="e" x="191" y="15">[table]</text><text x="3" y="33">...</text><text x="3" y="51">&lt; 2</text><text class="e" x="148.5" y="51">0 rows</text></g>
<g id="my_pages" transform="translate(249,5589.2)"><rect class="b" width="94" height="55"/><rect class="h" width="94" height="21"/><path class="l" d="M0,38H94M32.5,38V55M76,38V55"/><text x="4" y="15">my_pages</text><text class="e" x="90" y="15">[table]</text><text x="3" y="33">...</text><text x="3" y="51">&lt; 1</text><text class="e" x="72.5" y="51">0 rows</text></g>
<g id="notifications" transform="translate(245,5665.2)"><rect class="b" width="102" height="55"/><rect class="h" width="102" height="21"/><path class="l" d="M0,38H102M31.3,38V55M74.8,38V55"/><text x="4" y="15">notifications</text><text class="e" x="98" y="15">[table]</text><text x="3" y="33">...</text><text x="3" y="51">&lt; 1</text><text class="e" x="71.3" y="51">0 rows</text><text class="e" x="99.5" y="51">1 &gt;</text></g>
<g id="portfolio_instance_user" transform="translate(216.5,5741.2)"><rect class="b" width="157.8" height="55"/><rect class="h" width="157.8" height="21"/><path class="l" d="M0,38H157.8M63.8,38V55M123.5,38V55"/><text x="4" y="15">portfolio_instance_user</text><text class="e" x="153.8" y="15">[table]</text><text x="3" y="33">...</text><text x="3" y="51">&lt; 2</text><text class="e" x="120" y="51">0 rows</text></g>
<g id="portfolio_log" transform="translate(243.8,5817.3)"><rect class="b" width="103.2" height="55"/><rect class="h" width="103.2" height="21"/><path class="l" d="M0,38H103.2M36.5,38V55M84.1,38V55"/><text x="4" y="15">portfolio_log</text><text class="e" x="99.2" y="15">[table]</text><text x="3" y="33">...</text><text x="3" y="51">&lt; 2</text><text class="e" x="80.6" y="51">0 rows</text></g>
<g id="portfolio_tempdata" transform="translate(227.5,5893.3)"><rect class="b" width="135.8" height="55"/><rect class="h" width="135.8" height="21"/><path class="l" d="M0,38H135.8M48.8,38V55M100.4,38V55"/><text x="4" y="15">portfolio_tempdata</text><text class="e" x="131.8" y="15">[table]</text><text x="3" y="33">...</text><text x="3" y="51">&lt; 2</text><text class="e" x="96.9" y="51">0 rows</text><text class="e" x="133.3" y="51">1 &gt;</text></g>
<g id="post" transform="translate(255.4,5969.3)"><rect class="b" width="80.1" height="55"/><rect class="h" width="80.1" height="21"/><path class="l" d="M0,38H80.1M20.9,38V55M59.2,38V55"/><text x="4" y="15">post</text><text class="e" x="76.1" y="15">[table]</text><text x="3" y="33">...</text><text x="3" y="51">&lt; 1</text><text class="e" x="55.7" y="51">0 rows</text><text class="e" x="77.6" y="51">1 &gt;</text></g>
<g id="question" transform="translate(251.9,6045.4)"><rect class="b" width="87.1" height="55"/><rect class="h" width="87.1" height="21"/><path class="l" d="M0,38H87.1M21.4,38V55M59.7,38V55"/><text x="4" y="15">question</text><text class="e" x="83.1" y="15">[table]</text><text x="3" y="33">...</text><text x="3" y="51">&lt; 4</text><text class="e" x="56.2" y="51">0 rows</text><text class="e" x="84.6" y="51">28 &gt;</text></g>
<g id="question_attempt_steps" transform="translate(215.3,6121.4)"><rect class="b" width="161.4" height="55"/><rect class="h" width="161.4" height="21"/><path class="l" d="M0,38H161.4M61,38V55M120.1,38V55"/><text x="4" y="15">question_attempt_steps</text><text class="e" x="157.4" y="15">[table]</text><text x="3" y="33">...</text><text x="3" y="51">&lt; 2</text><text class="e" x="116.6" y="51">0 rows</text><text class="e" x="158.9" y="51">1 &gt;</text></g>
<g id="quiz_attempts" transform="translate(239.7,6197.4)"><rect class="b" width="112" height="55"/><rect class="h" width="112" height="21"/><path class="l" d="M0,38H112M41.8,38V55M89.9,38V55"/><text x="4" y="15">quiz_attempts</text><text class="e" x="108" y="15">[table]</text><text x="3" y="33">...</text><text x="3" y="51">&lt; 3</text><text class="e" x="86.4" y="51">0 rows</text></g>
<g id="quiz_overrides" transform="translate(238,6273.4)"><rect class="b" width="114.9" height="55"/><rect class="h" width="114.9" height="21"/><path class="l" d="M0,38H114.9M42.3,38V55M91.6,38V55"/><text x="4" y="15">quiz_overrides</text><text class="e" x="110.9" y="15">[table]</text><text x="3" y="33">...</text><text x="3" y="51">&lt; 3</text><text class="e" x="88.1" y="51">0 rows</text></g>
<g id="mnet_sso_access_control" transform="translate(209.5,6349.5)"><rect class="b" width="171.8" height="55"/><rect class="h" width="171.8" height="21"/><path class="l" d="M0,38H171.8M70.8,38V55M134.1,38V55"/><text x="4" y="15">mnet_sso_access_control</text><text class="e" x="167.8" y="15">[table]</text><text x="3" y="33">...</text><text x="3" y="51">&lt; 1</text><text class="e" x="130.6" y="51">0 rows</text></g>

<text x="12.8" y="6434">Generated by SchemaSpy</text>
</g>
</svg>
